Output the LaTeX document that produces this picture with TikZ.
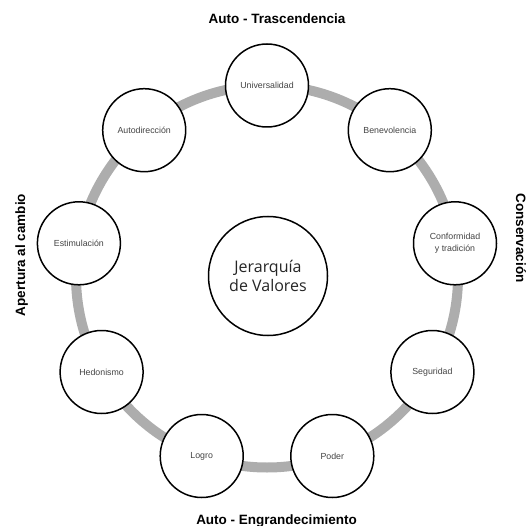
\documentclass[tikz,border=0pt]{standalone}
\usepackage{fontspec}
\setmainfont{Liberation Sans}
\newfontfamily\hubfont{Open Sans}
\definecolor{ringgray}{HTML}{ADADAD}
\definecolor{valtext}{HTML}{444444}
\begin{document}
\begin{tikzpicture}[x=1pt,y=-1pt,
  ring/.style={line width=10pt, draw=ringgray},
  val/.style={circle, draw=black, line width=1.5pt, fill=white, minimum size=83pt, inner sep=0pt,
    font=\fontsize{8.8}{11.5}\selectfont, text=valtext, align=center},
  hub/.style={circle, draw=black, line width=1.5pt, fill=white, minimum size=119pt, inner sep=0pt,
    font=\hubfont\fontsize{16}{19.5}\selectfont, text=black!85, align=center},
  axis/.style={font=\bfseries\fontsize{13.5}{15}\selectfont, text=black, inner sep=0pt}]
\useasboundingbox (0,0) rectangle (529,526);
\coordinate (c) at (267,276.5);
\draw[ring] (c) circle (191pt);
\node[hub] (hub) at (268,276) {Jerarqu\'{\i}a\\de Valores};
\node[val] (univ) at (267,85.5) {Universalidad};
\node[val] (bene) at (389.8,130.2) {Benevolencia};
\node[val] (conf) at (455,243.3) {Conformidad\\y tradici\'on};
\node[val] (segu) at (432.4,372) {Seguridad};
\node[val] (pode) at (332.3,456) {Poder};
\node[val] (logr) at (201.7,456) {Logro};
\node[val] (hedo) at (101.6,372) {Hedonismo};
\node[val] (esti) at (78.9,243.3) {Estimulaci\'on};
\node[val] (auto) at (144.2,130.2) {Autodirecci\'on};
\node[axis, anchor=base] (trasc) at (277,24) {Auto - Trascendencia};
\node[axis, anchor=base] (engr) at (276.5,524) {Auto - Engrandecimiento};
\node[axis, anchor=base, rotate=90] (apert) at (25,255) {Apertura al cambio};
\node[axis, anchor=base, rotate=-90] (conse) at (516,238) {Conservaci\'on};
\end{tikzpicture}
\end{document}
